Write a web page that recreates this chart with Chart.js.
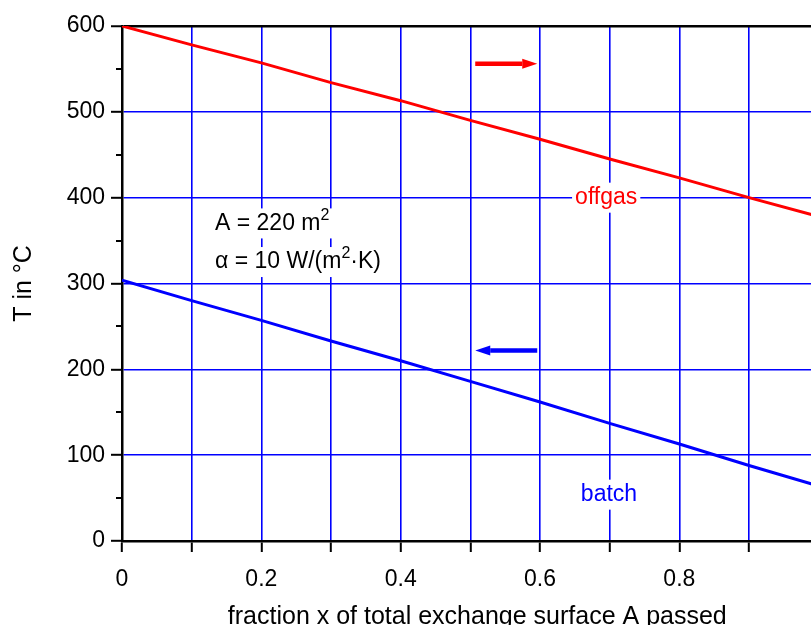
<!DOCTYPE html>
<html>
<head>
<meta charset="utf-8">
<script src="https://cdn.jsdelivr.net/npm/chart.js@4.4.0/dist/chart.umd.min.js"></script>
<style>
  html, body { margin: 0; padding: 0; background: #fff; overflow: hidden; }
  #wrap { position: absolute; left: 0; top: 0; width: 840px; height: 640px; }
</style>
</head>
<body>
<div id="wrap"><canvas id="tempChart" width="840" height="640"></canvas></div>
<script>
// fraction x of the exchange surface passed
const xFraction = [0, 0.1, 0.2, 0.3, 0.4, 0.5, 0.6, 0.7, 0.8, 0.9, 1.0];
// temperatures in °C
const offgasTemp = [600, 578, 557, 534, 513, 490, 468, 445, 423, 400, 378];
const batchTemp  = [304, 280, 257, 233, 210, 186, 162, 137, 113, 88, 64];

// unlabeled half-step ticks on the temperature axis
const minorYTicks = [50, 150, 250, 350, 450, 550];

// text notes, anchored in data coordinates (parts flagged true are superscript)
const notes = [
    { parts: [['offgas']], x: 0.695, y: 400, color: '#ff0000', align: 'center' },
    { parts: [['batch']], x: 0.699, y: 54, color: '#0000ff', align: 'center' },
    { parts: [['A = 220 m'], ['2', true]], x: 0.1335, y: 370, color: '#000', align: 'left' },
    { parts: [['\u03b1 = 10 W/(m'], ['2', true], ['\u00b7K)']], x: 0.1335, y: 325, color: '#000', align: 'left' }
];

// flow direction arrows: [x, y] tail -> head
const arrows = [
    { from: [0.507, 556], to: [0.596, 556], color: '#ff0000' },
    { from: [0.596, 222], to: [0.507, 222], color: '#0000ff' }
];

const FONT = "'Liberation Sans', Arial, Helvetica, sans-serif";
const FONT_SIZE = 23;
const GRID_BLUE = 'rgb(0, 0, 255)';

const decorations = {
    id: 'decorations',
    beforeDatasetsDraw(chart) {
        // short minor ticks outside the left axis
        const ctx = chart.ctx;
        const y = chart.scales.y;
        ctx.save();
        ctx.strokeStyle = '#000';
        ctx.lineWidth = 2;
        minorYTicks.forEach(v => {
            const py = Math.round(y.getPixelForValue(v));
            ctx.beginPath();
            ctx.moveTo(y.right - 6, py);
            ctx.lineTo(y.right, py);
            ctx.stroke();
        });
        ctx.restore();
    },
    afterDatasetsDraw(chart) {
        const ctx = chart.ctx;
        const xs = chart.scales.x;
        const ys = chart.scales.y;
        ctx.save();

        // arrows
        arrows.forEach(a => {
            const x1 = xs.getPixelForValue(a.from[0]);
            const y1 = ys.getPixelForValue(a.from[1]);
            const x2 = xs.getPixelForValue(a.to[0]);
            const y2 = ys.getPixelForValue(a.to[1]);
            const ang = Math.atan2(y2 - y1, x2 - x1);
            const headLen = 15, headHalf = 5;
            const bx = x2 - headLen * Math.cos(ang);
            const by = y2 - headLen * Math.sin(ang);
            ctx.strokeStyle = a.color;
            ctx.fillStyle = a.color;
            ctx.lineWidth = 4.5;
            ctx.beginPath();
            ctx.moveTo(x1, y1);
            ctx.lineTo(bx, by);
            ctx.stroke();
            ctx.beginPath();
            ctx.moveTo(x2, y2);
            ctx.lineTo(bx + headHalf * Math.sin(ang), by - headHalf * Math.cos(ang));
            ctx.lineTo(bx - headHalf * Math.sin(ang), by + headHalf * Math.cos(ang));
            ctx.closePath();
            ctx.fill();
        });

        // notes with a white box behind them
        const mainFont = FONT_SIZE + 'px ' + FONT;
        const supFont = '16px ' + FONT;
        ctx.textBaseline = 'middle';
        notes.forEach(n => {
            let width = 0;
            n.parts.forEach(p => {
                ctx.font = p[1] ? supFont : mainFont;
                width += ctx.measureText(p[0]).width;
            });
            const px = xs.getPixelForValue(n.x);
            const py = ys.getPixelForValue(n.y);
            let left = n.align === 'center' ? px - width / 2 : px;
            ctx.fillStyle = '#fff';
            ctx.fillRect(left - 3, py - 15, width + 6, 30);
            ctx.fillStyle = n.color;
            ctx.textAlign = 'left';
            n.parts.forEach(p => {
                ctx.font = p[1] ? supFont : mainFont;
                ctx.fillText(p[0], left, p[1] ? py - 8 : py);
                left += ctx.measureText(p[0]).width;
            });
        });
        ctx.restore();
    }
};

const tickFont = { family: FONT, size: FONT_SIZE };

new Chart(document.getElementById('tempChart').getContext('2d'), {
    type: 'line',
    data: {
        datasets: [
            {
                label: 'offgas',
                data: xFraction.map((x, i) => ({ x: x, y: offgasTemp[i] })),
                borderColor: '#ff0000',
                borderWidth: 3,
                pointRadius: 0,
                tension: 0
            },
            {
                label: 'batch',
                data: xFraction.map((x, i) => ({ x: x, y: batchTemp[i] })),
                borderColor: '#0000ff',
                borderWidth: 3,
                pointRadius: 0,
                tension: 0
            }
        ]
    },
    options: {
        responsive: false,
        animation: false,
        layout: { padding: { left: 0, top: 26, right: 21.3, bottom: 0 } },
        plugins: {
            legend: { display: false },
            tooltip: { enabled: false }
        },
        scales: {
            x: {
                type: 'linear',
                min: 0,
                max: 1,
                ticks: {
                    stepSize: 0.1,
                    autoSkip: false,
                    maxRotation: 0,
                    color: '#000',
                    font: tickFont,
                    padding: 14,
                    callback: v => (Math.round(v * 10) % 2 === 0 ? String(Math.round(v * 10) / 10) : '')
                },
                grid: {
                    color: GRID_BLUE,
                    lineWidth: 1.6,
                    tickColor: '#000',
                    tickLength: 11,
                    tickWidth: 2
                },
                border: { color: '#000', width: 2.5 },
                title: {
                    display: true,
                    text: '\u00a0\u00a0fraction x of total exchange surface A passed',
                    color: '#000',
                    font: { family: FONT, size: 25 },
                    padding: { top: 0, bottom: 8 }
                },
                afterFit: s => { s.height = 99; }
            },
            y: {
                min: 0,
                max: 600,
                ticks: {
                    stepSize: 100,
                    color: '#000',
                    font: tickFont,
                    padding: 6
                },
                grid: {
                    color: c => (c.tick && c.tick.value === 600 ? '#000' : GRID_BLUE),
                    lineWidth: c => (c.tick && c.tick.value === 600 ? 2.5 : 1.6),
                    tickColor: '#000',
                    tickLength: 11,
                    tickWidth: 2
                },
                border: { color: '#000', width: 2.5 },
                title: {
                    display: true,
                    text: 'T in \u00b0C',
                    color: '#000',
                    font: { family: FONT, size: 25 },
                    padding: { top: 9, bottom: 0 }
                },
                afterFit: s => { s.width = 122; }
            }
        }
    },
    plugins: [decorations]
});
</script>
</body>
</html>
